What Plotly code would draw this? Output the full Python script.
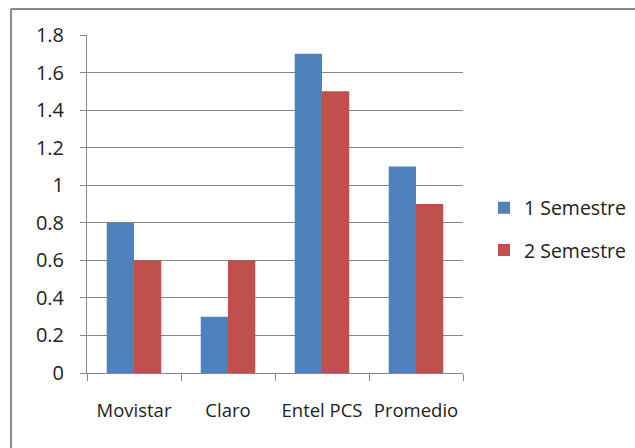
import plotly.graph_objects as go

categories = ["Movistar", "Claro", "Entel PCS", "Promedio"]
sem1 = [0.8, 0.3, 1.7, 1.1]
sem2 = [0.6, 0.6, 1.5, 0.9]
series_names = ["1 Semestre", "2 Semestre"]
y_ticks = [0, 0.2, 0.4, 0.6, 0.8, 1, 1.2, 1.4, 1.6, 1.8]

font_family = "Open Sans, Liberation Sans, sans-serif"

fig = go.Figure()
fig.add_trace(go.Bar(x=categories, y=sem1, name=series_names[0],
                     marker=dict(color="#4F81BD", line=dict(width=0)),
                     legendgroup="a"))
fig.add_trace(go.Bar(x=categories, y=sem2, name=series_names[1],
                     marker=dict(color="#C0504D", line=dict(width=0)),
                     legendgroup="b"))

L, R, T, B = 87, 172, 35, 75
pw = 635 - L - R
ph = 448 - T - B

def px_x(p):
    return (p - L) / pw

def px_y(p):
    return (448 - B - p) / ph

fig.update_layout(
    width=635, height=448,
    margin=dict(l=L, r=R, t=T, b=B, autoexpand=False),
    paper_bgcolor="white", plot_bgcolor="white",
    barmode="group", bargap=0.42, bargroupgap=0,
    font=dict(family=font_family, size=20, color="#222"),
    showlegend=True,
    legend=dict(x=px_x(484), y=px_y(229), xanchor="left", yanchor="middle",
                font=dict(size=19.5), tracegroupgap=14,
                bgcolor="rgba(0,0,0,0)"),
    xaxis=dict(showline=True, linecolor="#888", linewidth=1,
               ticks="outside", tickson="boundaries", ticklen=7,
               tickcolor="#888", showgrid=False, tickfont=dict(size=18.5),
               tickangle=0, ticklabelstandoff=21),
    yaxis=dict(range=[0, 1.8], tickvals=y_ticks, showline=True,
               linecolor="#888", linewidth=1, showgrid=True,
               gridcolor="#888", gridwidth=1, ticks="outside",
               ticklen=6, tickcolor="#888", zeroline=False,
               tickfont=dict(size=20), ticklabelstandoff=12),
    shapes=[
        dict(type="line", xref="paper", yref="paper",
             x0=px_x(11), x1=px_x(640), y0=px_y(9), y1=px_y(9),
             line=dict(color="#8a8a8a", width=2)),
        dict(type="line", xref="paper", yref="paper",
             x0=px_x(11), x1=px_x(11), y0=px_y(9), y1=px_y(455),
             line=dict(color="#8a8a8a", width=2)),
    ],
)

fig.write_html("out.html")
